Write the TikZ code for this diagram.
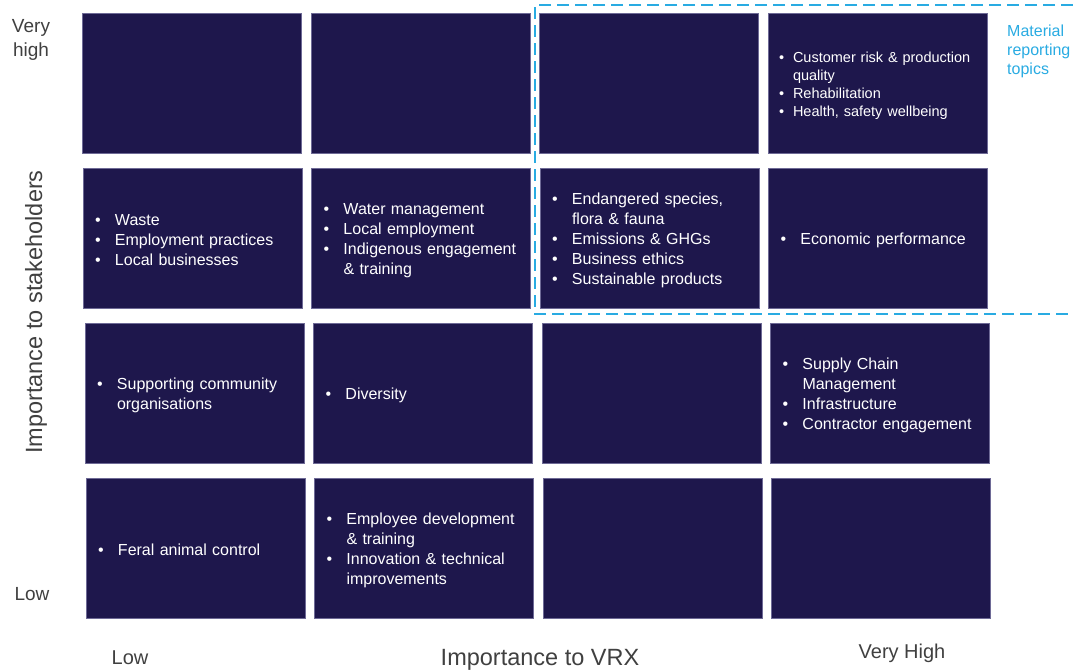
\documentclass[tikz,border=0pt]{standalone}
\usepackage{fontspec}
\setmainfont{Liberation Sans}
\usepackage{tikz}
\definecolor{navy}{RGB}{30,23,76}
\definecolor{edge}{RGB}{110,106,150}
\definecolor{sky}{RGB}{41,171,226}
\definecolor{axisgray}{RGB}{64,64,64}
\tikzset{
  font={\fontsize{16pt}{20pt}\selectfont}}
\newcommand{\cellitem}[2][20pt]{\makebox[#1][l]{\textbullet}\mbox{#2}}
\newcommand{\cellcont}[2][20pt]{\hspace*{#1}\mbox{#2}}

\begin{document}
\begin{tikzpicture}[x=1pt, y=-1pt, node distance={228.5pt},
  cell/.style = {draw=edge, line width=0.6pt, fill=navy, text=white, minimum height=140pt, text width=195pt, inner xsep=12pt, inner ysep=0pt, align=left, execute at begin node={\leavevmode\rule{0pt}{16pt}}},
  cellsmall/.style = {font={\fontsize{14.5pt}{18pt}\selectfont}, inner xsep=11pt, text width=197pt},
  axis/.style = {text=axisgray, inner sep=0pt, align=center},
  mat/.style = {text=sky, inner sep=0pt, align=left, anchor=west, font={\fontsize{16pt}{19pt}\selectfont}},
  matframe/.style = {draw=sky, line width=1.3pt, dash pattern=on 12pt off 6pt}]
\useasboundingbox (0,0) rectangle (1073,670);

% very high row
\node[cell] (b11) at (192,83) {};
\node[cell] (b12) [right of=b11] {};
\node[cell] (b13) [right of=b12] {};
\node[cell, cellsmall] (b14) [right of=b13] {\cellitem[14pt]{Customer risk \& production}\\\cellcont[14pt]{quality}\\\cellitem[14pt]{Rehabilitation}\\\cellitem[14pt]{Health, safety wellbeing}};

% high row
\node[cell] (b21) at (192.5,238) {\cellitem{Waste}\\\cellitem{Employment practices}\\\cellitem{Local businesses}};
\node[cell] (b22) [right of=b21] {\cellitem{Water management}\\\cellitem{Local employment}\\\cellitem{Indigenous engagement}\\\cellcont{\& training}};
\node[cell] (b23) [right of=b22] {\cellitem{Endangered species,}\\\cellcont{flora \& fauna}\\\cellitem{Emissions \& GHGs}\\\cellitem{Business ethics}\\\cellitem{Sustainable products}};
\node[cell] (b24) [right of=b23] {\cellitem{Economic performance}};

% medium row
\node[cell] (b31) at (194.5,393) {\cellitem{Supporting community}\\\cellcont{organisations}};
\node[cell] (b32) [right of=b31] {\cellitem{Diversity}};
\node[cell] (b33) [right of=b32] {};
\node[cell] (b34) [right of=b33] {\cellitem{Supply Chain}\\\cellcont{Management}\\\cellitem{Infrastructure}\\\cellitem{Contractor engagement}};

% low row
\node[cell] (b41) at (195.5,548) {\cellitem{Feral animal control}};
\node[cell] (b42) [right of=b41] {\cellitem{Employee development}\\\cellcont{\& training}\\\cellitem{Innovation \& technical}\\\cellcont{improvements}};
\node[cell] (b43) [right of=b42] {};
\node[cell] (b44) [right of=b43] {};

% material topics
\draw[matframe] (1073,5) -- (535,5) -- (535,314) -- (1073,314);
\node[mat] (mt) at (1007,51) {Material\\reporting\\topics};

% axes
\node[axis, anchor=base, font={\fontsize{19pt}{24pt}\selectfont}] (yhi) at (31,56) {Very\\high};
\node[axis, anchor=base, font={\fontsize{19pt}{24pt}\selectfont}] (ylo) at (32,600) {Low};
\node[axis, rotate=90, font={\fontsize{23.5pt}{28pt}\selectfont}] (ylab) at (36,312) {Importance to stakeholders};
\node[axis, anchor=base, font={\fontsize{20pt}{24pt}\selectfont}] (xlo) at (130,664) {Low};
\node[axis, anchor=base, font={\fontsize{23.5pt}{28pt}\selectfont}] (xlab) at (540,665) {Importance to VRX};
\node[axis, anchor=base, font={\fontsize{20pt}{24pt}\selectfont}] (xhi) at (902,658) {Very High};
\end{tikzpicture}
\end{document}
